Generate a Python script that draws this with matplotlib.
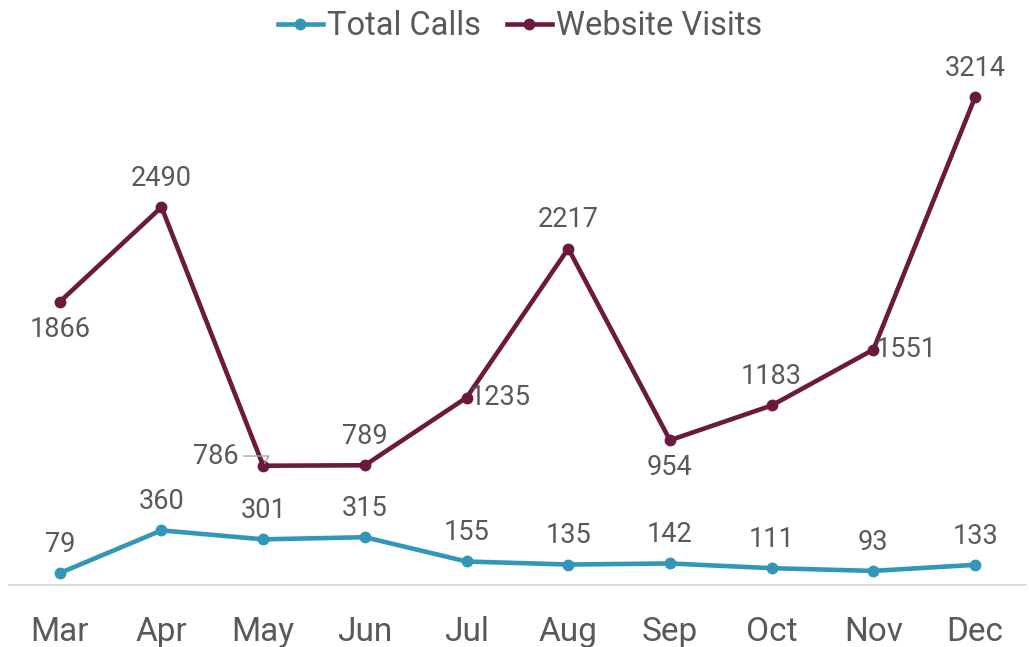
import matplotlib
matplotlib.use("Agg")
import matplotlib.pyplot as plt

plt.rcParams['font.family'] = ['Roboto', 'DejaVu Sans']

months = ["Mar", "Apr", "May", "Jun", "Jul", "Aug", "Sep", "Oct", "Nov", "Dec"]
total_calls = [79, 360, 301, 315, 155, 135, 142, 111, 93, 133]
website_visits = [1866, 2490, 786, 789, 1235, 2217, 954, 1183, 1551, 3214]
# where each website visits label sits relative to its point
visit_label_pos = ["below", "above", "left", "above", "right", "above", "below", "above", "right", "above"]

teal = "#3196B7"
maroon = "#6B1A3E"
text_gray = "#595959"

fig = plt.figure(figsize=(10.29, 6.47), dpi=100)
ax = fig.add_axes([0.0087, 0.0958, 0.9883, 0.821])

x = list(range(len(months)))
ax.plot(x, total_calls, color=teal, lw=3.3, marker='o', ms=7.5, label="Total Calls")
ax.plot(x, website_visits, color=maroon, lw=3.3, marker='o', ms=7.5, label="Website Visits")

# data labels
for i, v in enumerate(total_calls):
    ax.annotate(str(v), (i, v), xytext=(0, 11), textcoords='offset points',
                ha='center', va='bottom', fontsize=19.5, color=text_gray)

offsets = {
    "above": ((0, 11), 'center', 'bottom'),
    "below": ((0, -10), 'center', 'top'),
    "left": ((-18, 7), 'right', 'center'),
    "right": ((2, 0), 'left', 'center'),
}
for i, (v, pos) in enumerate(zip(website_visits, visit_label_pos)):
    off, ha, va = offsets[pos]
    ax.annotate(str(v), (i, v), xytext=off, textcoords='offset points',
                ha=ha, va=va, fontsize=19.5, color=text_gray)

# small leader line next to the May label
ax.annotate("", xy=(2, 786), xytext=(-16, 7), textcoords='offset points',
            arrowprops=dict(arrowstyle='-', color='#A6A6A6', lw=1,
                            connectionstyle='angle,angleA=0,angleB=60,rad=0'))

ax.set_xlim(-0.5, 9.5)
ax.set_ylim(0, 3500)
ax.set_xticks(x)
ax.set_xticklabels(months, fontsize=24, color=text_gray)
ax.set_yticks([])
ax.tick_params(axis='x', length=0, pad=22)
for side in ['top', 'right', 'left']:
    ax.spines[side].set_visible(False)
ax.spines['bottom'].set_color('#D9D9D9')
ax.spines['bottom'].set_linewidth(1.3)

fig.legend(loc='upper center', bbox_to_anchor=(0.505, 1.03), ncol=2, frameon=False,
           fontsize=23.5, labelcolor=text_gray, handlelength=1.4, handletextpad=0.1,
           columnspacing=0.8)

fig.savefig("out.png", dpi=100)
